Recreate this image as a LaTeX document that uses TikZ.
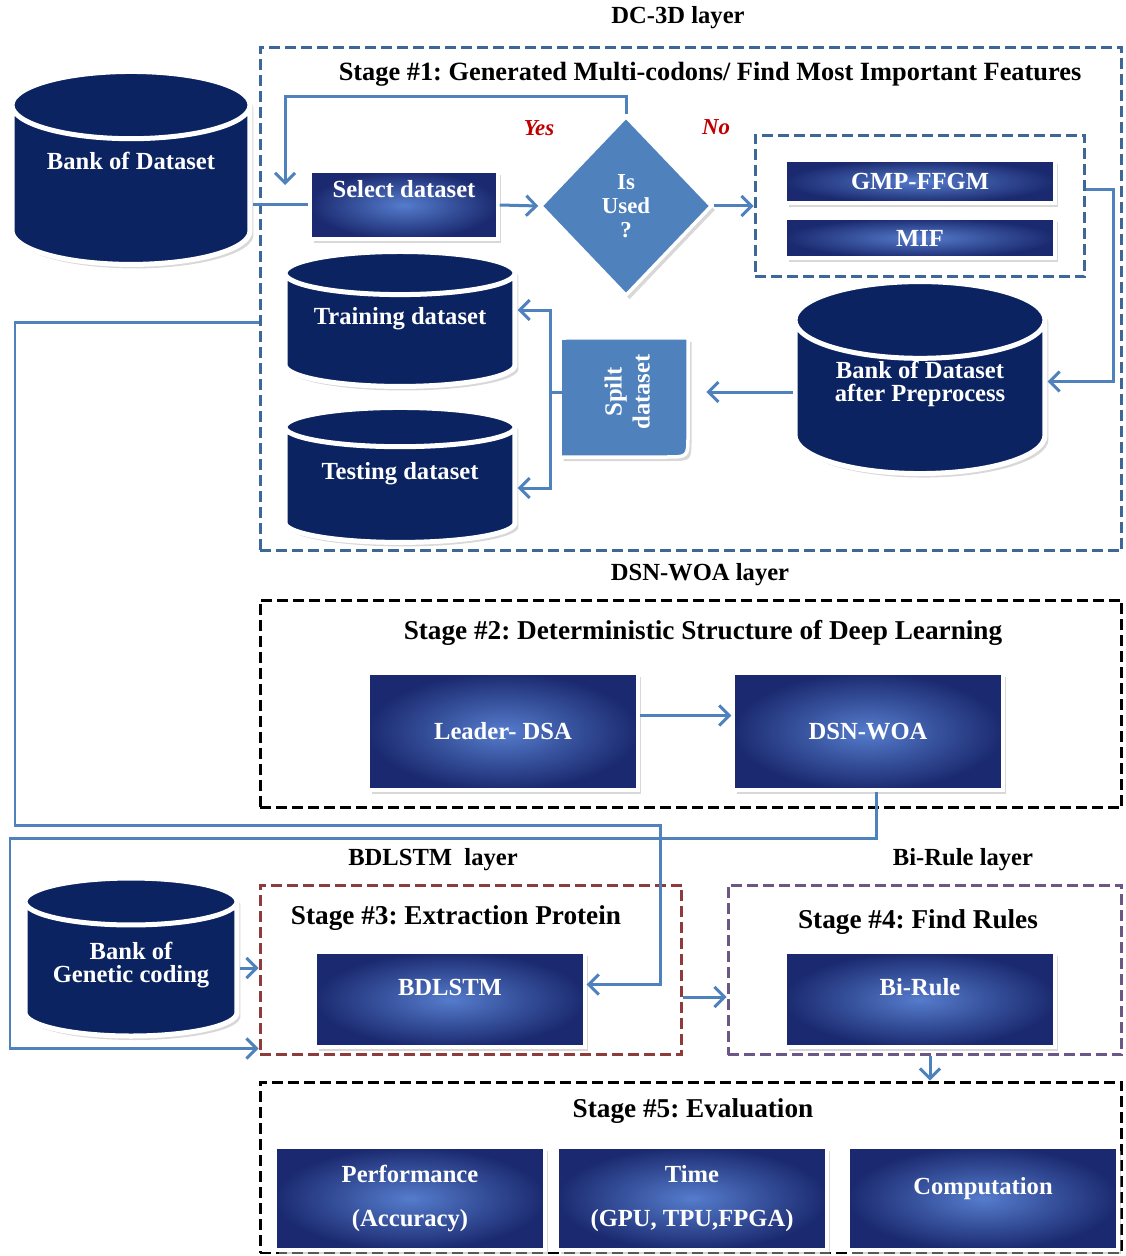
\documentclass[tikz,border=0pt]{standalone}
\usepackage{fontspec}
\setmainfont{Liberation Serif}
\usetikzlibrary{shapes.geometric,shadows,arrows.meta}
\definecolor{navy}{HTML}{0B2461}
\definecolor{accent}{HTML}{4F81BD}
\definecolor{boxdark}{HTML}{1B2A70}
\definecolor{boxlight}{HTML}{557CCC}
\definecolor{stageblue}{HTML}{3C6796}
\definecolor{stagered}{HTML}{8E3B3B}
\definecolor{stagepurple}{HTML}{6B5685}
\definecolor{answerred}{HTML}{C00000}
\frenchspacing
\begin{document}
\begin{tikzpicture}[x=0.02cm,y=-0.02cm,
    font=\fontsize{14}{16}\selectfont\bfseries,
    shade/.style={drop shadow={shadow xshift=0.07cm,shadow yshift=-0.08cm,fill=black!30}},
    db/.style={cylinder,shape border rotate=90,aspect=0.4,draw=white,line width=0.1cm,
        fill=navy,text=white,align=center,inner sep=0pt,shade,font=\fontsize{14}{13}\selectfont\bfseries},
    gbox/.style={rectangle,draw=white,line width=0.07cm,inner color=boxlight,outer color=boxdark,
        text=white,align=center,inner sep=0pt,minimum width=5.4cm,shade},
    raised/.style={text height=0.7em,text depth=#1},
    stage/.style={rectangle,dash pattern=on 0.22cm off 0.1cm,line width=0.06cm,inner sep=0pt},
    stagetitle/.style={font=\fontsize{15.5}{18}\selectfont\bfseries},
    conn/.style={draw=accent,line width=0.06cm},
    tip/.style={-{Straight Barb[length=0.2cm,width=0.4cm]}},
    answer/.style={text=answerred,font=\fontsize{13}{15}\selectfont\bfseries\itshape}
]
\useasboundingbox (0,0) rectangle (1125,1256);

% Layer titles
\node (dclayer) at (678,18) {DC-3D layer};
\node (dsnlayer) at (700,575) {DSN-WOA layer};
\node (bdllayer) at (433,860) {BDLSTM\ \ layer};
\node (rulelayer) at (963,860) {Bi-Rule layer};

% Stage #1
\node[stage,draw=stageblue,minimum width=17.24cm,minimum height=10.08cm] (st1) at (691,299) {};
\node[stagetitle,font=\fontsize{15}{18}\selectfont\bfseries] (st1title) at (710,74) {Stage \#1: Generated Multi-codons/ Find Most Important Features};
\node[db,minimum width=4.76cm,minimum height=3.86cm,raised=0.9cm] (bank) at (131,186) {Bank of Dataset};
\node[gbox,minimum width=3.76cm,minimum height=1.36cm,raised=0.56cm] (sel) at (404,205) {Select dataset};
\node[diamond,fill=accent,draw=white,line width=0.07cm,text=white,align=center,inner sep=0pt,
    minimum width=3.44cm,minimum height=3.6cm,shade,font=\fontsize{13}{13.5}\selectfont\bfseries] (used) at (626,206) {Is\\Used\\?};
\node[answer] (yes) at (539,128) {Yes};
\node[answer] (no) at (716,127) {No};
\node[stage,draw=stageblue,minimum width=6.6cm,minimum height=2.84cm] (fe) at (920,206) {};
\node[gbox,minimum height=0.86cm] (gmp) at (920,181.5) {GMP-FFGM};
\node[gbox,minimum height=0.8cm] (mif) at (920,238) {MIF};
\node[db,minimum width=5cm,minimum height=3.84cm,aspect=0.45] (bank2) at (920,398) {Bank of Dataset\\after Preprocess\\[6pt]\mbox{}};
\filldraw[fill=accent,draw=white,line width=0.07cm,shade] (560,457) -- (560,344) .. controls (560,338) .. (566,338)
    -- (688,338) -- (688,435) .. controls (688,457) .. (666,457) -- cycle;
\node[text=white,minimum width=2.56cm,minimum height=2.38cm,inner sep=0pt] (split) at (630,392)
    {\rotatebox{90}{\begin{tabular}{@{}c@{}}Spilt\\dataset\end{tabular}}};
\node[db,minimum width=4.6cm,minimum height=2.7cm,aspect=0.25,raised=0.5cm] (train) at (400,331) {Training dataset};
\node[db,minimum width=4.6cm,minimum height=2.7cm,aspect=0.25,raised=0.5cm] (test) at (400,486) {Testing dataset};
\coordinate (yesend) at (285,185);

% Stage #2
\node[stage,draw=black,minimum width=17.24cm,minimum height=4.16cm] (st2) at (691,704) {};
\node[stagetitle] (st2title) at (703,633) {Stage \#2: Deterministic Structure of Deep Learning};
\node[gbox,minimum height=2.34cm] (leader) at (503,731.5) {Leader- DSA};
\node[gbox,minimum height=2.34cm] (dsn) at (868,731.5) {DSN-WOA};

% Stage #3 and #4
\node[db,minimum width=4.24cm,minimum height=3.16cm,aspect=0.3] (gen) at (131,970) {Bank of\\Genetic coding\\[-4pt]\mbox{}};
\node[stage,draw=stagered,minimum width=8.44cm,minimum height=3.4cm] (st3) at (471,970) {};
\node[stagetitle] (st3title) at (456,918) {Stage \#3: Extraction Protein};
\node[gbox,minimum height=1.9cm,raised=0.4cm] (bdl) at (450,999.5) {BDLSTM};
\node[stage,draw=stagepurple,minimum width=7.88cm,minimum height=3.4cm] (st4) at (925,970) {};
\node[stagetitle] (st4title) at (918,922) {Stage \#4: Find Rules};
\node[gbox,minimum height=1.9cm,raised=0.4cm] (birule) at (920,999.5) {Bi-Rule};

% Stage #5
\node[stage,draw=black,minimum width=17.24cm,minimum height=3.42cm] (st5) at (691,1167.5) {};
\node[stagetitle] (st5title) at (693,1111) {Stage \#5: Evaluation};
\node[gbox,minimum height=2.06cm] (perf) at (410,1198.5) {Performance\\[9pt](Accuracy)};
\node[gbox,minimum height=2.06cm] (time) at (692,1198.5) {Time\\[9pt](GPU, TPU,FPGA)};
\node[gbox,minimum height=2.06cm,raised=0.4cm] (comp) at (983,1198.5) {Computation};

% Connectors
\draw[conn] (bank.east |- sel.west) -- (sel.west);
\draw[conn,tip] (sel.east) -- (used.west);
\draw[conn,tip] (used.north) -- (626,97) -| (yesend);
\draw[conn,tip] (used.east) -- (fe.west);
\draw[conn,tip] ([yshift=0.32cm]fe.east) -- ++(27,0) |- ([yshift=0.33cm]bank2.east);
\draw[conn,tip,shorten >=0.24cm] (bank2.west |- split.east) -- (split.east);
\draw[conn,tip] (split.west) -- ++(-15,0) |- ([yshift=0.42cm]train.east);
\draw[conn,tip] (split.west) -- ++(-15,0) |- ([yshift=-0.04cm]test.east);
\draw[conn,tip] ([yshift=0.18cm]train.west -| st1.west) -| (15,825) -- (660,825) |- ([yshift=0.3cm]bdl.east);
\draw[conn,tip] ([yshift=0.32cm]leader.east) -- ([yshift=0.32cm]dsn.west);
\draw[conn,tip] ([xshift=0.16cm]dsn.south) |- (10,838) |- ([yshift=0.16cm]st3.south west);
\coordinate (genout) at ([yshift=0.04cm]gen.east);
\draw[conn,tip] (genout) -- (genout -| st3.west);
\coordinate (s3out) at ([yshift=-0.54cm]st3.east);
\draw[conn,tip] (s3out) -- (s3out -| st4.west);
\draw[conn,tip] ([xshift=0.1cm]st4.south) -- ([xshift=0.1cm]st4.south |- st5.north);
\end{tikzpicture}
\end{document}
